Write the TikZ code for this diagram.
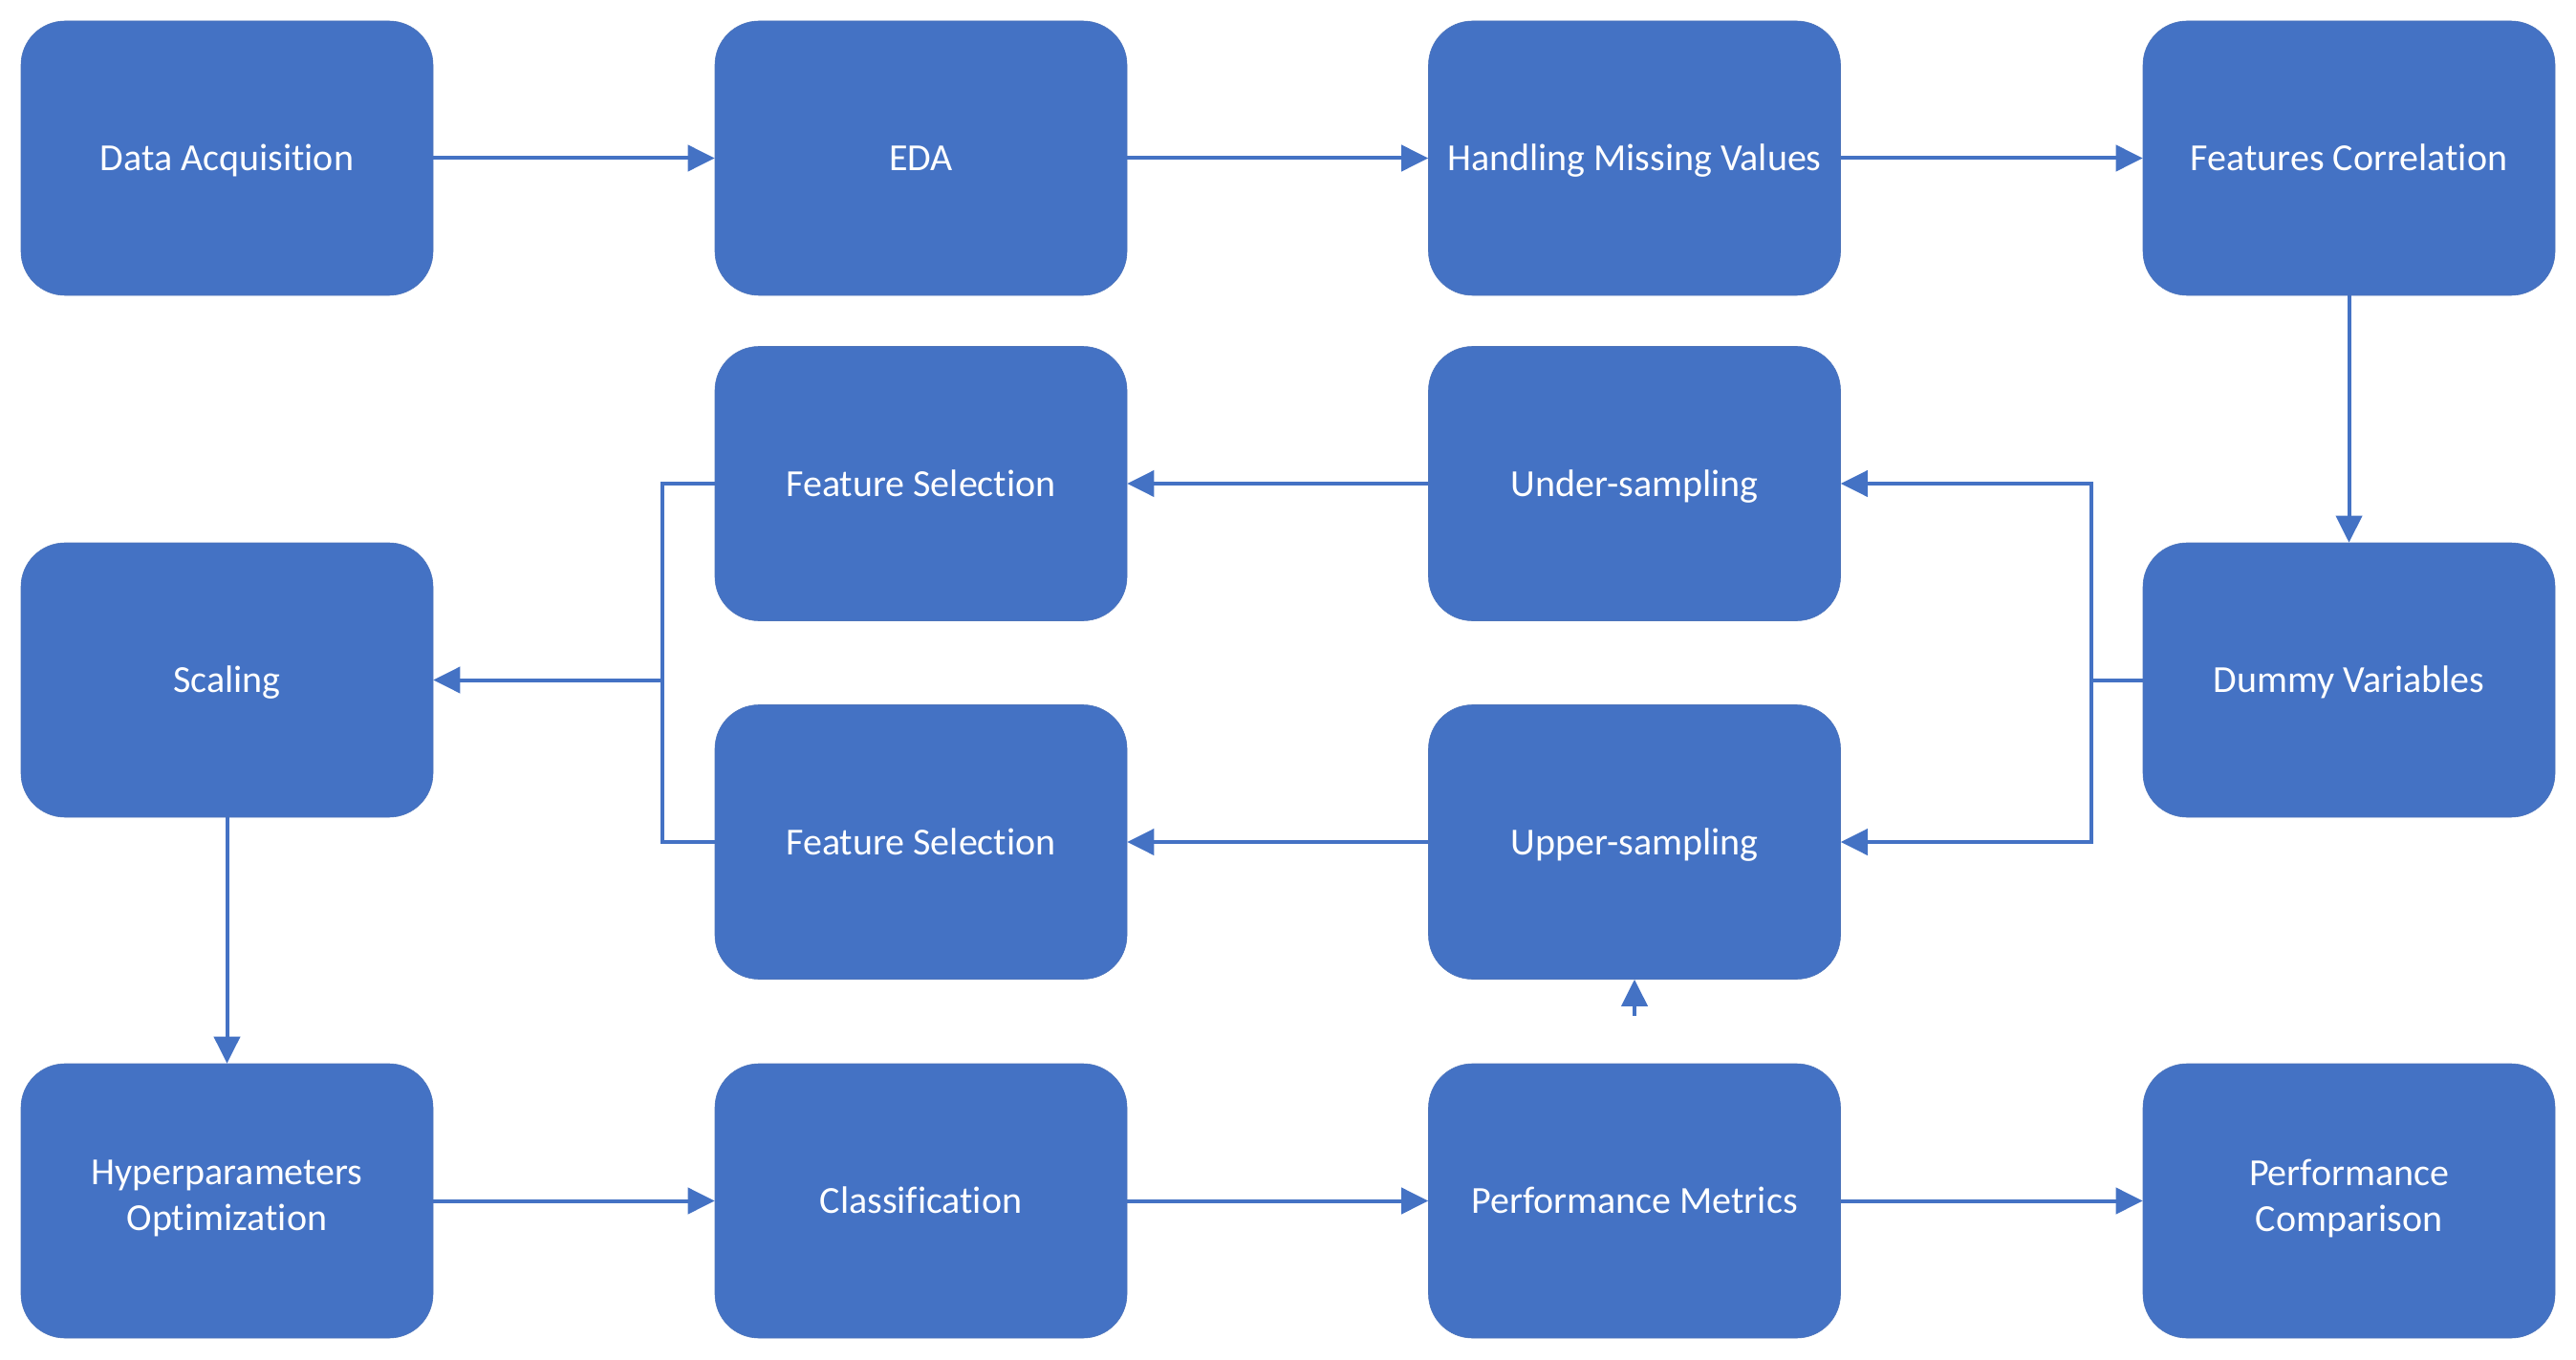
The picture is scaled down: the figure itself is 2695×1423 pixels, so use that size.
\documentclass[tikz,border=0pt]{standalone}
\usepackage{fontspec}
\setmainfont{Carlito}[Ligatures={NoCommon,NoContextual}, Contextuals=NoAlternate]
\usetikzlibrary{arrows.meta}
\definecolor{boxblue}{HTML}{4472C4}
\newcommand{\boxstrut}{\rule[-11pt]{0pt}{48pt}}
\tikzset{
  box/.style={rectangle, rounded corners=46pt, fill=boxblue, draw=boxblue!85!gray, line width=0.6pt,
    minimum width=431pt, minimum height=287pt, inner sep=0pt, text=white, align=center,
    font=\fontsize{40}{48}\selectfont, execute at begin node={\boxstrut}},
  conn/.style={draw=boxblue, line width=4pt},
  arr/.style={conn, -{Triangle[length=28pt,width=27pt]}}
}
\begin{document}
\begin{tikzpicture}[x=1pt,y=-1pt]
\useasboundingbox (0,0) rectangle (2695,1423);
% row 1
\node[box] (da)  at (237.5,165.5) {Data Acquisition};
\node[box] (eda) at (963.5,165.5) {EDA};
\node[box] (hmv) at (1710,165.5) {Handling Missing Values};
\node[box] (fc)  at (2457.5,165.5) {Features Correlation};
% middle
\node[box] (fs1) at (963.5,506) {Feature Selection};
\node[box] (us)  at (1710,506) {Under-sampling};
\node[box] (sc)  at (237.5,711.5) {Scaling};
\node[box] (dum) at (2457.5,711.5) {Dummy Variables};
\node[box] (fs2) at (963.5,881) {Feature Selection};
\node[box] (ups) at (1710,881) {Upper-sampling};
% bottom
\node[box] (hp)  at (237.5,1256.5) {Hyperparameters\\\boxstrut Optimization};
\node[box] (cl)  at (963.5,1256.5) {Classification};
\node[box] (pm)  at (1710,1256.5) {Performance Metrics};
\node[box] (pc)  at (2457.5,1256.5) {Performance\\\boxstrut Comparison};
% junctions
\coordinate (jr) at (2188,711.5);
\coordinate (jl) at (693,711.5);
\coordinate (tail) at (1710,1063);
% connectors
\draw[arr] (da) -- (eda);
\draw[arr] (eda) -- (hmv);
\draw[arr] (hmv) -- (fc);
\draw[arr] (fc) -- (dum);
\draw[conn] (dum.west) -- (jr);
\draw[arr] (jr) |- (us.east);
\draw[arr] (jr) |- (ups.east);
\draw[arr] (us) -- (fs1);
\draw[arr] (ups) -- (fs2);
\draw[conn] (fs1.west) -| (jl);
\draw[conn] (fs2.west) -| (jl);
\draw[arr] (jl) -- (sc.east);
\draw[arr] (sc) -- (hp);
\draw[arr] (hp) -- (cl);
\draw[arr] (cl) -- (pm);
\draw[arr] (pm) -- (pc);
\draw[arr] (tail) -- (ups.south);
\end{tikzpicture}
\end{document}
